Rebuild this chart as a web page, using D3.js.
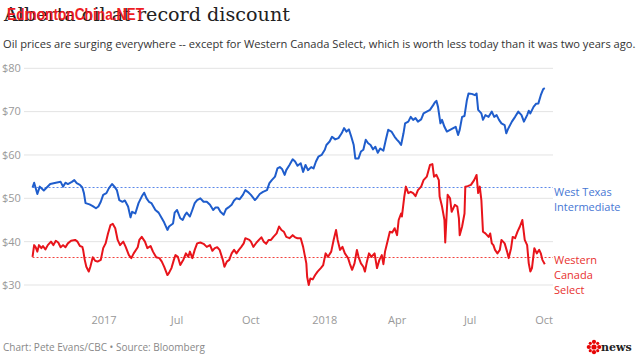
<!DOCTYPE html>
<html>
<head>
<meta charset="utf-8">
<script src="https://cdn.jsdelivr.net/npm/d3@7"></script>
<style>
  html, body { margin: 0; padding: 0; background: #fff; }
  svg { display: block; }
</style>
</head>
<body>
<svg id="chart" width="640" height="364"></svg>
<script>
// ---------------- DATA ----------------
const titleText = "Alberta oil at record discount";
const watermarkText = "EdmontonChina.NET";
const subtitleText = "Oil prices are surging everywhere -- except for Western Canada Select, which is worth less today than it was two years ago.";
const footerText = "Chart: Pete Evans/CBC \u2022 Source: Bloomberg";

const yTicks = [30, 40, 50, 60, 70, 80];
const xTickDates = ["2017-04-01", "2017-07-01", "2017-10-01", "2018-01-01", "2018-04-01", "2018-07-01", "2018-10-01"];
const xTickLabels = ["2017", "Jul", "Oct", "2018", "Apr", "Jul", "Oct"];

const wtiLabel = ["West Texas", "Intermediate"];
const wcsLabel = ["Western", "Canada", "Select"];

const wtiDates = [
"2017-01-02","2017-01-04","2017-01-08","2017-01-11","2017-01-16","2017-01-24","2017-01-31","2017-02-06","2017-02-09","2017-02-12",
"2017-02-15","2017-02-20","2017-02-23","2017-02-26","2017-03-02","2017-03-05","2017-03-07","2017-03-09","2017-03-14","2017-03-18",
"2017-03-22","2017-03-25","2017-03-28","2017-03-31","2017-04-04","2017-04-07","2017-04-11","2017-04-14","2017-04-17","2017-04-20",
"2017-04-24","2017-04-27","2017-05-01","2017-05-04","2017-05-06","2017-05-10","2017-05-14","2017-05-18","2017-05-21","2017-05-24",
"2017-05-27","2017-05-30","2017-06-04","2017-06-08","2017-06-12","2017-06-15","2017-06-19","2017-06-21","2017-06-26","2017-06-28",
"2017-07-01","2017-07-05","2017-07-08","2017-07-11","2017-07-13","2017-07-17","2017-07-20","2017-07-23","2017-07-26","2017-07-30",
"2017-08-03","2017-08-07","2017-08-11","2017-08-15","2017-08-18","2017-08-21","2017-08-24","2017-08-28","2017-08-31","2017-09-03",
"2017-09-07","2017-09-10","2017-09-13","2017-09-17","2017-09-21","2017-09-24","2017-09-27","2017-10-01","2017-10-06","2017-10-08",
"2017-10-12","2017-10-16","2017-10-21","2017-10-24","2017-10-27","2017-10-31","2017-11-03","2017-11-06","2017-11-09","2017-11-12",
"2017-11-14","2017-11-18","2017-11-22","2017-11-25","2017-11-28","2017-12-02","2017-12-05","2017-12-08","2017-12-11","2017-12-15",
"2017-12-18","2017-12-21","2017-12-24","2017-12-28","2018-01-01","2018-01-03","2018-01-07","2018-01-10","2018-01-14","2018-01-18",
"2018-01-22","2018-01-25","2018-01-28","2018-01-31","2018-02-03","2018-02-06","2018-02-08","2018-02-12","2018-02-15","2018-02-18",
"2018-02-21","2018-02-24","2018-02-27","2018-03-02","2018-03-05","2018-03-08","2018-03-11","2018-03-15","2018-03-18","2018-03-21",
"2018-03-25","2018-03-29","2018-04-01","2018-04-03","2018-04-06","2018-04-09","2018-04-11","2018-04-15","2018-04-18","2018-04-21",
"2018-04-24","2018-04-27","2018-05-01","2018-05-04","2018-05-08","2018-05-12","2018-05-16","2018-05-18","2018-05-20","2018-05-22",
"2018-05-25","2018-05-27","2018-05-30","2018-06-02","2018-06-06","2018-06-10","2018-06-13","2018-06-16","2018-06-18","2018-06-21",
"2018-06-24","2018-06-27","2018-06-29","2018-07-03","2018-07-07","2018-07-09","2018-07-11","2018-07-15","2018-07-17","2018-07-20",
"2018-07-24","2018-07-28","2018-07-31","2018-08-03","2018-08-06","2018-08-09","2018-08-13","2018-08-15","2018-08-17","2018-08-22",
"2018-08-26","2018-08-30","2018-09-03","2018-09-06","2018-09-10","2018-09-12","2018-09-14","2018-09-18","2018-09-21","2018-09-24",
"2018-09-27","2018-09-30","2018-10-02"
];
const wtiValues = [
52.5,53.6,51.0,52.7,51.8,53.3,53.6,53.8,52.7,53.6,
53.3,53.8,54.2,53.5,53.1,52.5,51.2,48.9,48.6,48.2,
47.7,48.1,49.2,50.8,51.2,52.3,53.3,52.7,51.9,49.6,
49.2,49.5,48.1,45.6,46.9,46.5,48.9,50.4,51.3,50.0,
49.2,48.9,47.3,46.7,45.4,44.4,42.7,43.5,44.2,46.7,
47.3,45.4,45.0,46.2,46.7,45.8,47.3,48.9,49.6,50.0,
49.2,49.2,48.5,47.3,47.9,47.9,46.9,46.2,47.5,47.9,
48.5,49.5,50.0,49.8,50.8,51.9,51.5,50.8,49.6,50.0,
51.0,51.5,51.9,53.5,54.2,55.0,56.9,57.2,56.7,55.4,
56.5,57.7,59.0,58.5,57.5,58.1,56.1,57.7,56.5,57.2,
56.9,58.5,59.6,60.0,61.2,62.3,63.1,64.2,63.6,63.9,
65.0,66.2,65.4,65.9,64.2,62.3,59.2,59.2,60.8,61.2,
63.5,62.7,62.3,61.3,61.9,60.5,61.5,61.0,63.5,65.8,
65.4,64.2,63.5,63.1,62.3,65.0,67.3,67.7,68.8,68.1,
68.5,67.7,68.2,69.6,70.0,70.4,71.5,72.1,72.5,71.1,
67.3,68.1,66.5,65.4,65.8,66.2,66.5,64.6,65.8,68.8,
69.0,72.7,74.2,74.1,73.8,74.2,70.4,69.6,68.1,69.2,
68.8,70.0,68.8,69.2,68.1,67.3,66.9,65.0,65.9,67.7,
68.8,70.0,69.2,67.7,69.2,70.2,69.6,71.1,71.8,71.9,
73.8,75.2,75.4
];

const wcsDates = [
"2017-01-02","2017-01-04","2017-01-06","2017-01-08","2017-01-10","2017-01-13","2017-01-15","2017-01-18","2017-01-21","2017-01-25",
"2017-01-28","2017-01-31","2017-02-03","2017-02-06","2017-02-09","2017-02-12","2017-02-15","2017-02-19","2017-02-24","2017-02-27",
"2017-03-02","2017-03-05","2017-03-06","2017-03-08","2017-03-10","2017-03-13","2017-03-15","2017-03-18","2017-03-21","2017-03-24",
"2017-03-28","2017-03-31","2017-04-03","2017-04-06","2017-04-09","2017-04-12","2017-04-15","2017-04-18","2017-04-21","2017-04-25",
"2017-04-28","2017-05-02","2017-05-05","2017-05-08","2017-05-13","2017-05-15","2017-05-18","2017-05-22","2017-05-25","2017-05-29",
"2017-06-01","2017-06-05","2017-06-09","2017-06-12","2017-06-15","2017-06-19","2017-06-21","2017-06-24","2017-06-27","2017-06-29",
"2017-07-02","2017-07-05","2017-07-09","2017-07-12","2017-07-15","2017-07-17","2017-07-20","2017-07-23","2017-07-26","2017-07-30",
"2017-08-03","2017-08-07","2017-08-11","2017-08-14","2017-08-17","2017-08-20","2017-08-23","2017-08-27","2017-08-29","2017-09-01",
"2017-09-04","2017-09-07","2017-09-10","2017-09-13","2017-09-16","2017-09-19","2017-09-22","2017-09-24","2017-09-29","2017-10-01",
"2017-10-04","2017-10-08","2017-10-11","2017-10-14","2017-10-17","2017-10-20","2017-10-23","2017-10-26","2017-10-29","2017-11-02",
"2017-11-05","2017-11-08","2017-11-11","2017-11-14","2017-11-18","2017-11-22","2017-11-25","2017-11-28","2017-12-02","2017-12-05",
"2017-12-07","2017-12-09","2017-12-10","2017-12-12","2017-12-14","2017-12-17","2017-12-20","2017-12-23","2017-12-27","2017-12-30",
"2018-01-02","2018-01-05","2018-01-09","2018-01-12","2018-01-15","2018-01-17","2018-01-20","2018-01-23","2018-01-26","2018-01-30",
"2018-02-01","2018-02-04","2018-02-07","2018-02-10","2018-02-12","2018-02-15","2018-02-18","2018-02-20","2018-02-22","2018-02-25",
"2018-02-28","2018-03-04","2018-03-07","2018-03-10","2018-03-13","2018-03-15","2018-03-17","2018-03-20","2018-03-23","2018-03-26",
"2018-03-29","2018-04-01","2018-04-03","2018-04-06","2018-04-07","2018-04-10","2018-04-12","2018-04-15","2018-04-18","2018-04-21",
"2018-04-24","2018-04-27","2018-05-01","2018-05-04","2018-05-08","2018-05-12","2018-05-15","2018-05-17","2018-05-20","2018-05-23",
"2018-05-24","2018-05-27","2018-05-30","2018-05-31","2018-06-03","2018-06-06","2018-06-08","2018-06-12","2018-06-15","2018-06-17",
"2018-06-18","2018-06-21","2018-06-24","2018-06-25","2018-06-28","2018-07-02","2018-07-06","2018-07-09","2018-07-11","2018-07-13",
"2018-07-15","2018-07-17","2018-07-20","2018-07-24","2018-07-26","2018-07-28","2018-07-30","2018-08-01","2018-08-04","2018-08-07",
"2018-08-09","2018-08-13","2018-08-16","2018-08-18","2018-08-21","2018-08-23","2018-08-26","2018-08-29","2018-09-01","2018-09-04",
"2018-09-07","2018-09-10","2018-09-12","2018-09-14","2018-09-16","2018-09-19","2018-09-22","2018-09-25","2018-09-27","2018-09-29",
"2018-10-02"
];
const wcsValues = [
36.5,39.2,38.7,37.7,39.2,38.5,39.0,38.2,39.2,40.0,
39.2,40.2,39.8,38.7,39.2,38.7,39.6,40.2,40.4,40.0,
39.0,38.8,38.1,35.8,34.2,33.1,34.2,36.4,35.6,35.4,
35.8,38.5,39.6,41.9,43.8,44.1,43.1,40.4,39.2,40.0,
38.8,36.9,36.2,37.3,38.7,40.4,41.1,40.0,38.5,39.0,
37.7,36.4,36.2,35.4,34.2,32.3,32.8,33.9,35.8,36.9,
36.5,34.6,35.9,37.3,36.5,37.7,36.2,38.1,39.6,39.8,
39.5,38.8,39.2,37.9,38.5,38.7,38.1,35.8,34.2,35.4,
35.8,37.3,38.1,37.3,38.1,38.8,39.6,40.8,40.4,40.0,
38.8,39.8,40.4,41.0,40.0,39.5,40.4,40.4,41.1,41.9,
43.5,42.7,42.3,41.1,40.8,41.5,41.0,40.8,40.8,38.8,
36.9,35.0,31.9,30.0,31.5,31.3,32.3,33.1,33.9,34.6,
37.3,36.5,37.7,40.4,42.7,40.4,38.1,38.8,37.3,36.2,
35.0,33.5,35.0,38.1,36.5,35.0,34.2,33.1,35.0,37.3,
36.5,37.3,33.9,35.8,36.9,34.8,37.7,40.0,42.3,42.1,
43.1,41.5,45.0,46.5,45.8,50.4,52.7,51.2,51.5,51.2,
50.5,51.9,52.7,54.2,55.0,57.7,57.9,55.0,55.4,54.2,
50.4,48.1,45.0,39.8,50.8,50.0,46.9,48.5,48.1,45.4,
41.5,43.5,46.5,52.7,52.8,53.1,54.2,55.4,51.2,52.7,
49.6,42.3,41.9,41.1,41.9,39.6,39.2,38.1,37.3,38.1,
40.4,39.6,37.7,36.2,38.5,41.1,40.8,42.3,43.5,45.0,
40.4,39.2,35.0,33.1,33.9,38.5,37.3,38.1,37.3,35.8,
34.8
];

// ---------------- STYLE ----------------
const W = 640, H = 364;
const plotLeft = 24, plotRight = 553;
const blue = "#1f5dcc", red = "#e8141b";
const blueLabel = "#4777d4", redLabel = "#e8312e";
const blueDot = "#5b88ea", redDot = "#f2433f";
const sans = "'Open Sans', 'Noto Sans', sans-serif";

const parse = d3.utcParse("%Y-%m-%d");
const svg = d3.select("#chart");

const x = d3.scaleUtc()
  .domain([parse("2017-04-01"), parse("2018-10-01")])
  .range([104, 544]);
const y = d3.scaleLinear().domain([30, 80]).range([285, 68.3]);

function fitWidth(sel, target) {
  const node = sel.node();
  const fs = parseFloat(sel.attr("font-size"));
  const w = node.getComputedTextLength();
  if (w > 0) sel.attr("font-size", (fs * target / w).toFixed(2));
}

// Title
const title = svg.append("text")
  .attr("x", 4).attr("y", 21)
  .attr("font-family", "'DejaVu Serif', Georgia, serif")
  .attr("font-size", 20)
  .attr("fill", "#222")
  .text(titleText);
fitWidth(title, 286);

// Watermark overlay (present in the reference image over the title)
svg.append("text")
  .attr("x", 7).attr("y", 20)
  .attr("font-family", "'Liberation Sans', Arial, sans-serif")
  .attr("font-weight", "bold")
  .attr("font-size", 17)
  .attr("fill", "#ee1c24")
  .attr("textLength", 137)
  .attr("lengthAdjust", "spacingAndGlyphs")
  .text(watermarkText);

// Subtitle
const sub = svg.append("text")
  .attr("x", 3).attr("y", 48)
  .attr("font-family", sans)
  .attr("font-size", 11)
  .attr("fill", "#333")
  .text(subtitleText);
fitWidth(sub, 633);

// Gridlines + y labels
const gy = svg.append("g");
gy.selectAll("line").data(yTicks).join("line")
  .attr("x1", plotLeft).attr("x2", plotRight)
  .attr("y1", d => y(d)).attr("y2", d => y(d))
  .attr("stroke", "#e3e3e3").attr("stroke-width", 1);
gy.selectAll("text").data(yTicks).join("text")
  .attr("x", 2).attr("y", d => y(d))
  .attr("dy", "0.35em")
  .attr("font-family", sans).attr("font-size", 11)
  .attr("fill", "#999")
  .text(d => "$" + d);

// X axis labels
svg.append("g").selectAll("text").data(xTickDates).join("text")
  .attr("x", d => x(parse(d)))
  .attr("y", 320).attr("dy", "0.35em")
  .attr("text-anchor", "middle")
  .attr("font-family", sans).attr("font-size", 11)
  .attr("fill", "#999")
  .text((d, i) => xTickLabels[i]);

// Series
const wti = wtiDates.map((d, i) => ({ date: parse(d), value: wtiValues[i] }));
const wcs = wcsDates.map((d, i) => ({ date: parse(d), value: wcsValues[i] }));

// Reference (starting value) dotted lines
const refs = [
  { v: wtiValues[0], c: blueDot, start: wti[0].date },
  { v: wcsValues[0], c: redDot, start: wcs[0].date }
];
svg.append("g").selectAll("line").data(refs).join("line")
  .attr("x1", d => x(d.start)).attr("x2", plotRight)
  .attr("y1", d => Math.round(y(d.v)) + 0.5).attr("y2", d => Math.round(y(d.v)) + 0.5)
  .attr("stroke", d => d.c).attr("stroke-width", 1)
  .attr("stroke-dasharray", "2,2");

const line = d3.line().x(d => x(d.date)).y(d => y(d.value));
svg.append("path").datum(wti).attr("d", line)
  .attr("fill", "none").attr("stroke", blue).attr("stroke-width", 2)
  .attr("stroke-linejoin", "round");
svg.append("path").datum(wcs).attr("d", line)
  .attr("fill", "none").attr("stroke", red).attr("stroke-width", 2)
  .attr("stroke-linejoin", "round");

// Series labels
svg.append("g").selectAll("text").data(wtiLabel).join("text")
  .attr("x", 554).attr("y", (d, i) => 192 + i * 15).attr("dy", "0.35em")
  .attr("font-family", sans).attr("font-size", 11)
  .attr("fill", blueLabel).text(d => d);
svg.append("g").selectAll("text").data(wcsLabel).join("text")
  .attr("x", 554).attr("y", (d, i) => 260 + i * 15).attr("dy", "0.35em")
  .attr("font-family", sans).attr("font-size", 11)
  .attr("fill", redLabel).text(d => d);

// Footer
svg.append("text")
  .attr("x", 3).attr("y", 347).attr("dy", "0.35em")
  .attr("font-family", sans).attr("font-size", 10)
  .attr("fill", "#888")
  .text(footerText);

// CBC news logo (gem + wordmark)
const logo = svg.append("g").attr("transform", "translate(594,347)");
const gemPts = [[0,0,2.6],[0,-5.2,2.1],[0,5.2,2.1],[-5.2,0,2.1],[5.2,0,2.1],
  [-3.7,-3.7,1.6],[3.7,-3.7,1.6],[-3.7,3.7,1.6],[3.7,3.7,1.6]];
logo.selectAll("circle").data(gemPts).join("circle")
  .attr("cx", d => d[0]).attr("cy", d => d[1]).attr("r", d => d[2])
  .attr("fill", "#e60505");
svg.append("text")
  .attr("x", 601).attr("y", 351)
  .attr("font-family", "'DejaVu Serif', serif")
  .attr("font-weight", "bold")
  .attr("font-size", 11)
  .attr("fill", "#222")
  .text("news");
</script>
</body>
</html>
